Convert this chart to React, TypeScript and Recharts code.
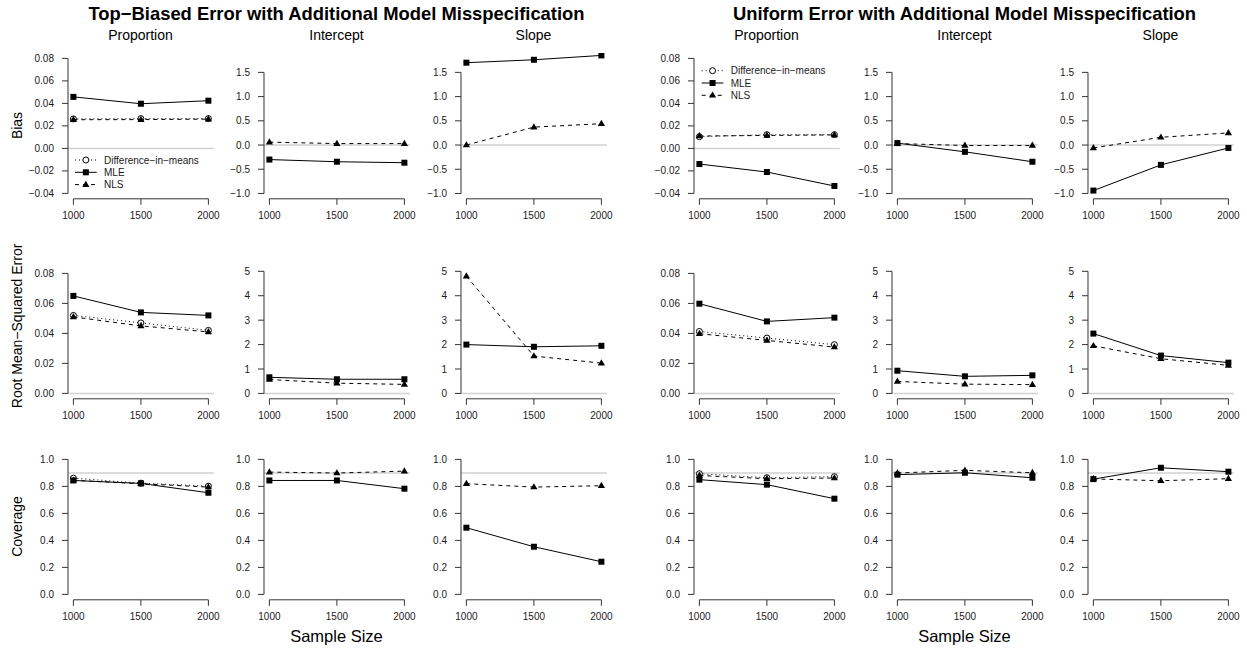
import { Line, LineChart, ReferenceLine, XAxis, YAxis } from 'recharts';

const FONT = '"Liberation Sans", Arial, Helvetica, sans-serif';

const sampleSizes = [1000, 1500, 2000];
const groupTitles = [
  'Top\u2212Biased Error with Additional Model Misspecification',
  'Uniform Error with Additional Model Misspecification',
];
const columnTitles = ['Proportion', 'Intercept', 'Slope'];
const rowTitles = ['Bias', 'Root Mean\u2212Squared Error', 'Coverage'];
const seriesNames = ['Difference\u2212in\u2212means', 'MLE', 'NLS'];
const xAxisTitle = 'Sample Size';

// top-biased error: bias
const tbBiasPropDiM = [0.0262, 0.0265, 0.0265];
const tbBiasPropMLE = [0.0458, 0.0397, 0.0424];
const tbBiasPropNLS = [0.0255, 0.0256, 0.026];
const tbBiasIntMLE = [-0.3, -0.345, -0.365];
const tbBiasIntNLS = [0.06, 0.03, 0.03];
const tbBiasSlopeMLE = [1.7, 1.76, 1.85];
const tbBiasSlopeNLS = [0.0, 0.37, 0.44];
// top-biased error: rmse
const tbRmsePropDiM = [0.052, 0.047, 0.042];
const tbRmsePropMLE = [0.065, 0.054, 0.052];
const tbRmsePropNLS = [0.051, 0.045, 0.041];
const tbRmseIntMLE = [0.66, 0.58, 0.58];
const tbRmseIntNLS = [0.57, 0.42, 0.37];
const tbRmseSlopeMLE = [2.0, 1.91, 1.95];
const tbRmseSlopeNLS = [4.8, 1.53, 1.24];
// top-biased error: coverage
const tbCovPropDiM = [0.861, 0.824, 0.802];
const tbCovPropMLE = [0.844, 0.822, 0.753];
const tbCovPropNLS = [0.845, 0.82, 0.795];
const tbCovIntMLE = [0.844, 0.844, 0.783];
const tbCovIntNLS = [0.906, 0.899, 0.913];
const tbCovSlopeMLE = [0.494, 0.353, 0.242];
const tbCovSlopeNLS = [0.82, 0.795, 0.805];

// uniform error: bias
const unBiasPropDiM = [0.0104, 0.0122, 0.0122];
const unBiasPropMLE = [-0.0139, -0.021, -0.0334];
const unBiasPropNLS = [0.011, 0.0115, 0.012];
const unBiasIntMLE = [0.04, -0.14, -0.345];
const unBiasIntNLS = [0.03, -0.01, -0.01];
const unBiasSlopeMLE = [-0.94, -0.41, -0.06];
const unBiasSlopeNLS = [-0.06, 0.16, 0.25];
// uniform error: rmse
const unRmsePropDiM = [0.0413, 0.0369, 0.0325];
const unRmsePropMLE = [0.0598, 0.048, 0.0505];
const unRmsePropNLS = [0.0398, 0.0353, 0.0309];
const unRmseIntMLE = [0.93, 0.7, 0.74];
const unRmseIntNLS = [0.49, 0.38, 0.36];
const unRmseSlopeMLE = [2.45, 1.55, 1.26];
const unRmseSlopeNLS = [1.95, 1.42, 1.15];
// uniform error: coverage
const unCovPropDiM = [0.894, 0.864, 0.872];
const unCovPropMLE = [0.85, 0.813, 0.709];
const unCovPropNLS = [0.881, 0.857, 0.862];
const unCovIntMLE = [0.887, 0.901, 0.864];
const unCovIntNLS = [0.899, 0.919, 0.901];
const unCovSlopeMLE = [0.854, 0.938, 0.909];
const unCovSlopeNLS = [0.855, 0.842, 0.857];

// y tick values
const biasPropTicks = [-0.04, -0.02, 0, 0.02, 0.04, 0.06, 0.08];
const biasCoefTicks = [-1, -0.5, 0, 0.5, 1, 1.5];
const rmsePropTicks = [0, 0.02, 0.04, 0.06, 0.08];
const rmseCoefTicks = [0, 1, 2, 3, 4, 5];
const coverageTicks = [0, 0.2, 0.4, 0.6, 0.8, 1];

// layout (plot regions, px)
const ROW_TOP = [52.6, 253, 453.6];
const COL_LEFT = [67.6, 263.6, 460.6, 693.6, 891.6, 1087.6];
const PLOT_W = 145.8;
const PLOT_H = 145.8;
const AXIS_W = 60;

type PanelDef = { row: number; col: number; dim?: number[]; mle: number[]; nls: number[] };

const panels: PanelDef[] = [
  { row: 0, col: 0, dim: tbBiasPropDiM, mle: tbBiasPropMLE, nls: tbBiasPropNLS },
  { row: 0, col: 1, mle: tbBiasIntMLE, nls: tbBiasIntNLS },
  { row: 0, col: 2, mle: tbBiasSlopeMLE, nls: tbBiasSlopeNLS },
  { row: 1, col: 0, dim: tbRmsePropDiM, mle: tbRmsePropMLE, nls: tbRmsePropNLS },
  { row: 1, col: 1, mle: tbRmseIntMLE, nls: tbRmseIntNLS },
  { row: 1, col: 2, mle: tbRmseSlopeMLE, nls: tbRmseSlopeNLS },
  { row: 2, col: 0, dim: tbCovPropDiM, mle: tbCovPropMLE, nls: tbCovPropNLS },
  { row: 2, col: 1, mle: tbCovIntMLE, nls: tbCovIntNLS },
  { row: 2, col: 2, mle: tbCovSlopeMLE, nls: tbCovSlopeNLS },
  { row: 0, col: 3, dim: unBiasPropDiM, mle: unBiasPropMLE, nls: unBiasPropNLS },
  { row: 0, col: 4, mle: unBiasIntMLE, nls: unBiasIntNLS },
  { row: 0, col: 5, mle: unBiasSlopeMLE, nls: unBiasSlopeNLS },
  { row: 1, col: 3, dim: unRmsePropDiM, mle: unRmsePropMLE, nls: unRmsePropNLS },
  { row: 1, col: 4, mle: unRmseIntMLE, nls: unRmseIntNLS },
  { row: 1, col: 5, mle: unRmseSlopeMLE, nls: unRmseSlopeNLS },
  { row: 2, col: 3, dim: unCovPropDiM, mle: unCovPropMLE, nls: unCovPropNLS },
  { row: 2, col: 4, mle: unCovIntMLE, nls: unCovIntNLS },
  { row: 2, col: 5, mle: unCovSlopeMLE, nls: unCovSlopeNLS },
];

function axisSpec(row: number, isProp: boolean) {
  if (row === 0) {
    return isProp
      ? { domain: [-0.0448, 0.0848], ticks: biasPropTicks, digits: 2, ref: 0 }
      : { domain: [-1.11, 1.9], ticks: biasCoefTicks, digits: 1, ref: 0 };
  }
  if (row === 1) {
    return isProp
      ? { domain: [-0.0036, 0.0936], ticks: rmsePropTicks, digits: 2, ref: 0 }
      : { domain: [-0.22, 5.75], ticks: rmseCoefTicks, digits: 0, ref: 0 };
  }
  return { domain: [-0.04, 1.04], ticks: coverageTicks, digits: 1, ref: 0.9 };
}

const fmt = (v: number, d: number) => v.toFixed(d).replace('-', '\u2212');

// point symbols (R pch 1, 15, 17)
const OpenCircle = ({ cx, cy }: any) => <circle cx={cx} cy={cy} r={3} fill="none" stroke="#000" strokeWidth={1} />;
const Square = ({ cx, cy }: any) => <rect x={cx - 3} y={cy - 3} width={6} height={6} fill="#000" />;
const Triangle = ({ cx, cy }: any) => (
  <polygon points={`${cx},${cy - 3.9} ${cx - 3.6},${cy + 2.3} ${cx + 3.6},${cy + 2.3}`} fill="#000" />
);

const tickStyle = { fontSize: 10, fill: '#1a1a1a', fontFamily: FONT };

function Panel({ p }: { p: PanelDef }) {
  const isProp = p.col % 3 === 0;
  const spec = axisSpec(p.row, isProp);
  const data = sampleSizes.map((n, i) => ({
    n,
    dim: p.dim ? p.dim[i] : null,
    mle: p.mle[i],
    nls: p.nls[i],
  }));
  const yMin = spec.domain[0];
  return (
    <div style={{ position: 'absolute', left: COL_LEFT[p.col] - AXIS_W, top: ROW_TOP[p.row] - 10 }}>
      <LineChart
        width={PLOT_W + AXIS_W + 10}
        height={PLOT_H + 40}
        data={data}
        margin={{ top: 10, right: 10, bottom: 0, left: 0 }}
      >
        <XAxis
          dataKey="n"
          type="number"
          domain={[960, 2040]}
          ticks={sampleSizes}
          allowDataOverflow
          axisLine={false}
          tickLine={{ stroke: '#333' }}
          tickSize={6}
          tickMargin={7}
          height={30}
          tick={tickStyle}
        />
        <YAxis
          type="number"
          domain={spec.domain}
          ticks={spec.ticks}
          allowDataOverflow
          axisLine={false}
          tickLine={{ stroke: '#333' }}
          tickSize={6}
          tickMargin={8}
          width={AXIS_W}
          tick={tickStyle}
          tickFormatter={(v: number) => fmt(v, spec.digits)}
        />
        <ReferenceLine y={spec.ref} stroke="#d2d2d2" strokeWidth={1.5} />
        <ReferenceLine
          segment={[{ x: 960, y: spec.ticks[0] }, { x: 960, y: spec.ticks[spec.ticks.length - 1] }]}
          stroke="#333"
          ifOverflow="visible"
        />
        <ReferenceLine
          segment={[{ x: 1000, y: yMin }, { x: 2000, y: yMin }]}
          stroke="#333"
          ifOverflow="visible"
        />
        {p.dim && (
          <Line
            type="linear"
            dataKey="dim"
            stroke="#000"
            strokeWidth={1}
            strokeDasharray="1 3"
            dot={(d: any) => <OpenCircle key={`c${d.index}`} cx={d.cx} cy={d.cy} />}
            activeDot={false}
            isAnimationActive={false}
          />
        )}
        <Line
          type="linear"
          dataKey="nls"
          stroke="#000"
          strokeWidth={1}
          strokeDasharray="4 4"
          dot={(d: any) => <Triangle key={`t${d.index}`} cx={d.cx} cy={d.cy} />}
          activeDot={false}
          isAnimationActive={false}
        />
        <Line
          type="linear"
          dataKey="mle"
          stroke="#000"
          strokeWidth={1}
          dot={(d: any) => <Square key={`s${d.index}`} cx={d.cx} cy={d.cy} />}
          activeDot={false}
          isAnimationActive={false}
        />
      </LineChart>
    </div>
  );
}

function LegendBox({ x, y }: { x: number; y: number }) {
  // x: left of sample line, y: centre of first row
  const rowGap = 12.3;
  const lineLen = 21.7;
  const mid = x + lineLen / 2;
  const dashes = ['1 3', undefined, '4 4'];
  return (
    <g>
      {seriesNames.map((name, i) => {
        const cy = y + i * rowGap;
        return (
          <g key={name}>
            <line x1={x} x2={x + lineLen} y1={cy} y2={cy} stroke="#000" strokeWidth={1} strokeDasharray={dashes[i]} />
            {i === 0 && <circle cx={mid} cy={cy} r={3} fill="#fff" stroke="#000" />}
            {i === 1 && <rect x={mid - 3} y={cy - 3} width={6} height={6} fill="#000" />}
            {i === 2 && (
              <polygon points={`${mid},${cy - 3.9} ${mid - 3.6},${cy + 2.3} ${mid + 3.6},${cy + 2.3}`} fill="#000" />
            )}
            <text x={x + 29} y={cy + 3.6} fontSize={10} fill="#1a1a1a">
              {name}
            </text>
          </g>
        );
      })}
    </g>
  );
}

export default function App() {
  const colCenter = (c: number) => COL_LEFT[c] + PLOT_W / 2;
  const rowCenter = (r: number) => ROW_TOP[r] + PLOT_H / 2;
  return (
    <div style={{ position: 'absolute', left: 0, top: 0, width: 1247, height: 648, background: '#fff', fontFamily: FONT }}>
      {panels.map((p) => (
        <Panel key={`${p.row}-${p.col}`} p={p} />
      ))}
      <svg
        width={1247}
        height={648}
        style={{ position: 'absolute', left: 0, top: 0, pointerEvents: 'none', fontFamily: FONT }}
      >
        {groupTitles.map((t, g) => (
          <text key={t} x={colCenter(g * 3 + 1)} y={20} textAnchor="middle" fontSize={18.4} fontWeight="bold" fill="#000">
            {t}
          </text>
        ))}
        {[0, 1, 2, 3, 4, 5].map((c) => (
          <text key={`ct${c}`} x={colCenter(c)} y={40} textAnchor="middle" fontSize={14} fill="#000">
            {columnTitles[c % 3]}
          </text>
        ))}
        {rowTitles.map((t, r) => (
          <text
            key={t}
            transform={`translate(22, ${rowCenter(r)}) rotate(-90)`}
            textAnchor="middle"
            fontSize={14}
            fill="#000"
          >
            {t}
          </text>
        ))}
        {[1, 4].map((c) => (
          <text key={`xs${c}`} x={colCenter(c)} y={642} textAnchor="middle" fontSize={16.5} fill="#000">
            {xAxisTitle}
          </text>
        ))}
        <LegendBox x={75} y={160} />
        <LegendBox x={701.7} y={70.7} />
      </svg>
    </div>
  );
}
